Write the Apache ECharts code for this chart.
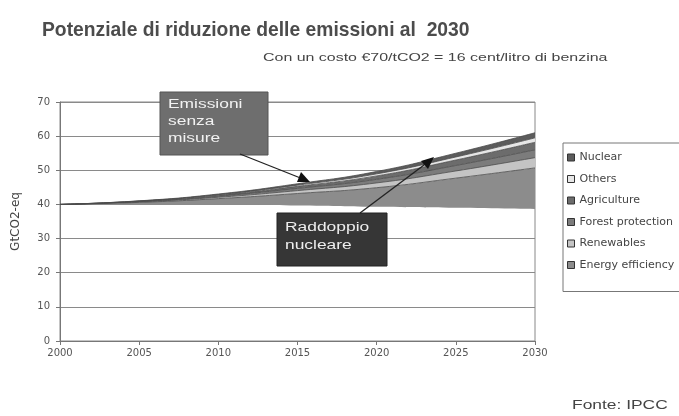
<!DOCTYPE html>
<html>
<head>
<meta charset="utf-8">
<script src="https://cdn.jsdelivr.net/npm/echarts@6/dist/echarts.min.js"></script>
<style>
html,body{margin:0;padding:0;background:#fff;}
#main{width:679px;height:416px;}
</style>
</head>
<body>
<div id="main"></div>
<script>
const years = ['2000','2005','2010','2015','2020','2025','2030'];
const yTicks = [0,10,20,30,40,50,60,70];
const baseline = [40, 40, 40, 39.7, 39.3, 39.0, 38.6];
const energyEfficiency = [0, 0.6, 1.7, 3.5, 5.6, 8.7, 12.1];
const renewables = [0, 0.15, 0.4, 0.85, 1.4, 2.1, 3.0];
const forestProtection = [0, 0.1, 0.3, 0.65, 1.05, 1.6, 2.3];
const agriculture = [0, 0.1, 0.3, 0.6, 1.0, 1.6, 2.2];
const others = [0, 0.05, 0.15, 0.35, 0.6, 0.9, 1.3];
const nuclear = [0, 0.05, 0.2, 0.4, 0.7, 1.1, 1.5];
const legendOrder = ['Nuclear','Others','Agriculture','Forest protection','Renewables','Energy efficiency'];

const FONT = 'Liberation Sans, Arial, sans-serif';
const WIDE = 'DejaVu Sans, Verdana, sans-serif';
const STRETCH = 1.45;
const chart = echarts.init(document.getElementById('main'));

function layer(name, data, color) {
  return {
    name: name, type: 'line', stack: 'total', data: data, smooth: true,
    showSymbol: false, symbol: 'none',
    lineStyle: { width: 0.8, color: '#4a4a4a' },
    itemStyle: { color: color, borderColor: '#333', borderWidth: 1 },
    areaStyle: { color: color, opacity: 1 },
    emphasis: { disabled: true }
  };
}

chart.setOption({
  animation: false,
  backgroundColor: '#ffffff',
  textStyle: { fontFamily: FONT },
  title: [
    { text: 'Potenziale di riduzione delle emissioni al  2030', left: 37, top: 16,
      textStyle: { fontFamily: FONT, fontSize: 19.3, fontWeight: 'bold', color: '#4c4c4c' } }
  ],
  grid: { left: 60, right: 144, top: 102, bottom: 75, show: true, borderColor: '#888', borderWidth: 1 },
  legend: {
    data: legendOrder, orient: 'vertical', left: 563, top: 143,
    itemWidth: 7, itemHeight: 7, itemGap: 8.5, icon: 'rect',
    padding: [8, 6, 20, 4],
    borderColor: '#777', borderWidth: 1,
    textStyle: { fontFamily: WIDE, fontSize: 11, color: '#444', width: 130, overflow: 'truncate', ellipsis: '', lineHeight: 13 },
    itemStyle: { borderColor: '#333', borderWidth: 1 }
  },
  xAxis: {
    type: 'category', data: years, boundaryGap: false,
    axisLine: { lineStyle: { color: '#777' } },
    axisTick: { show: true, alignWithLabel: true, length: 4, lineStyle: { color: '#777' } },
    axisLabel: { fontFamily: WIDE, fontSize: 10, color: '#555', margin: 7 },
    splitLine: { show: false }
  },
  yAxis: {
    type: 'value', min: yTicks[0], max: yTicks[yTicks.length - 1], interval: 10,
    name: 'GtCO2-eq', nameLocation: 'middle', nameGap: 38, nameRotate: 90,
    nameTextStyle: { fontFamily: WIDE, fontSize: 12, color: '#444' },
    axisLine: { show: true, lineStyle: { color: '#777' } },
    axisTick: { show: true, length: 4, lineStyle: { color: '#777' } },
    axisLabel: { fontFamily: WIDE, fontSize: 10, color: '#555', margin: 10 },
    splitLine: { show: true, lineStyle: { color: '#8a8a8a', width: 1 } }
  },
  series: [
    { name: 'Base', type: 'line', stack: 'total', data: baseline, smooth: true,
      showSymbol: false, symbol: 'none', lineStyle: { width: 0, opacity: 0 }, emphasis: { disabled: true } },
    layer('Energy efficiency', energyEfficiency, '#8c8c8c'),
    layer('Renewables', renewables, '#c4c4c4'),
    layer('Forest protection', forestProtection, '#7c7c7c'),
    layer('Agriculture', agriculture, '#6c6c6c'),
    layer('Others', others, '#e6e6e6'),
    layer('Nuclear', nuclear, '#5c5c5c')
  ],
  graphic: [
    { type: 'text', x: 263, y: 52, scaleX: STRETCH, z: 101,
      style: { text: 'Con un costo €70/tCO2 = 16 cent/litro di benzina', fill: '#444', font: '11px ' + FONT } },
    { type: 'text', x: 572, y: 400, scaleX: STRETCH, z: 101,
      style: { text: 'Fonte: IPCC', fill: '#444', font: '12px ' + FONT } },
    { type: 'rect', shape: { x: 160, y: 92, width: 108, height: 63 },
      style: { fill: '#6e6e6e', stroke: '#555', lineWidth: 1 }, z: 100 },
    { type: 'text', x: 168, y: 96, scaleX: STRETCH, z: 101,
      style: { text: 'Emissioni\nsenza\nmisure', fill: '#f2f2f2', font: '12px ' + FONT, lineHeight: 17 } },
    { type: 'line', shape: { x1: 240, y1: 154, x2: 303, y2: 179 },
      style: { stroke: '#222', lineWidth: 1.3 }, z: 100 },
    { type: 'polygon', shape: { points: [[310, 182], [297, 182], [301, 172]] },
      style: { fill: '#111' }, z: 100 },
    { type: 'rect', shape: { x: 277, y: 213, width: 110, height: 53 },
      style: { fill: '#363636', stroke: '#222', lineWidth: 1 }, z: 100 },
    { type: 'text', x: 285, y: 219, scaleX: STRETCH, z: 101,
      style: { text: 'Raddoppio\nnucleare', fill: '#eeeeee', font: '12px ' + FONT, lineHeight: 18 } },
    { type: 'line', shape: { x1: 360, y1: 213, x2: 428, y2: 162 },
      style: { stroke: '#222', lineWidth: 1.3 }, z: 100 },
    { type: 'polygon', shape: { points: [[434, 157], [421, 161], [428, 169]] },
      style: { fill: '#111' }, z: 100 }
  ]
});
</script>
</body>
</html>
